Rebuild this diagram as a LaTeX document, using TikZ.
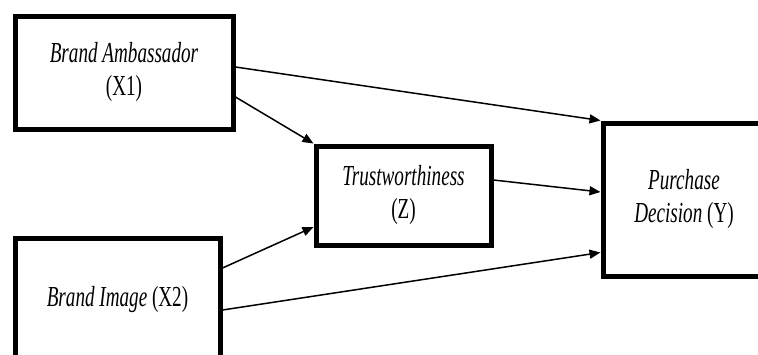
\documentclass[tikz,border=0pt]{standalone}
\usepackage{fontspec}
\usepackage{graphicx}
\setmainfont{Liberation Serif}
\usetikzlibrary{arrows.meta}
\newcommand{\sqz}[1]{\scalebox{0.66}[1]{#1}}
\begin{document}
\begin{tikzpicture}[x=1pt,y=-1pt,
  boxnode/.style={draw=black,line width=5pt,fill=white,inner sep=0pt,align=center,
    font=\fontsize{29}{33}\selectfont},
  link/.style={line width=1.5pt,-{Triangle[length=11pt,width=9pt]}}]
\useasboundingbox (0,0) rectangle (758,354);
\clip (0,0) rectangle (758,354);
\node[boxnode,minimum width=218pt,minimum height=113pt] (x1) at (124,72.5)
  {\sqz{\textit{Brand Ambassador}}\\\sqz{(X1)}};
\node[boxnode,minimum width=205pt,minimum height=124pt] (x2) at (117.5,300)
  {\sqz{\textit{Brand Image} (X2)}};
\node[boxnode,minimum width=175pt,minimum height=99pt] (z) at (403.5,195.5)
  {\sqz{\textit{Trustworthiness}}\\\sqz{(Z)}};
\node[boxnode,minimum width=162pt,minimum height=153pt] (y) at (684,199.5)
  {\sqz{\textit{Purchase}}\\\sqz{\textit{Decision} (Y)}};
\draw[link] ([yshift=5.5pt]x1.east) -- (y.north west);
\draw[link] ([yshift=-24.5pt]x1.east) -- (z.north west);
\draw[link] ([yshift=15.5pt]z.east) -- ([yshift=7.5pt]y.west);
\draw[link] ([yshift=32pt]x2.east) -- ([yshift=-31.5pt]z.west);
\draw[link] ([yshift=-10pt]x2.east) -- ([yshift=-53pt]y.west);
\end{tikzpicture}
\end{document}
